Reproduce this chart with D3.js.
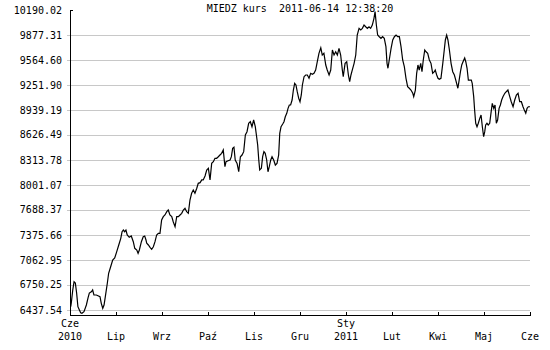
<!DOCTYPE html>
<html>
<head>
<meta charset="utf-8">
<script src="https://cdn.jsdelivr.net/npm/d3@7/dist/d3.min.js"></script>
<style>
  html, body { margin: 0; padding: 0; background: #fff; }
  svg text { font-family: "DejaVu Sans Mono", monospace; font-size: 10px; fill: #000; }
</style>
</head>
<body>
<svg id="chart" width="550" height="350"></svg>
<script>
const title = "MIEDZ kurs\u00a0\u00a02011-06-14 12:38:20";

// session position (trading days from 2010-06-14) and closing value
const sessions = [0.4,0.7,1.5,2.2,2.9,3.6,4.3,5.1,5.8,6.5,7.6,8.9,9.8,10.5,11.6,12.3,13.0,14.3,15.2,16.3,17.0,17.8,18.5,19.2,20.3,21.0,22.1,23.2,24.3,25.4,26.5,27.6,28.3,29.0,29.7,30.4,31.1,32.2,33.3,34.4,35.2,36.3,37.0,37.7,38.8,39.8,40.6,41.3,41.7,42.6,43.5,44.4,45.3,46.2,47.1,48.0,48.9,49.8,50.7,51.6,52.6,53.4,54.3,55.3,56.1,57.1,58.0,58.9,59.8,60.7,61.6,62.5,63.4,64.3,65.2,66.1,67.0,67.9,68.9,69.7,70.7,71.6,72.4,73.4,74.3,75.2,76.1,77.0,77.9,78.8,79.7,80.6,81.5,82.4,83.3,84.2,84.8,85.9,87.0,87.7,88.4,89.1,89.8,90.8,91.7,92.6,93.5,94.4,95.3,96.2,97.1,98.0,98.9,99.8,100.7,101.3,102.0,102.6,103.1,104.0,104.7,105.4,106.1,106.9,107.6,108.3,109.1,109.8,110.7,111.6,112.5,113.4,114.0,114.7,115.6,116.3,117.0,117.8,118.5,119.2,119.9,120.7,121.4,122.1,122.8,123.5,124.3,125.0,125.7,126.3,127.2,128.1,129.0,129.9,130.8,131.7,132.6,133.5,134.4,135.3,136.3,137.1,138.0,139.0,139.8,140.8,141.7,142.6,143.5,144.4,145.3,146.2,147.1,148.0,148.5,149.5,150.4,151.3,152.0,152.7,153.4,154.4,155.3,156.1,157.1,158.0,158.9,159.8,160.7,161.6,162.5,163.4,164.3,165.2,165.8,166.5,167.2,168.1,169.0,169.9,170.8,171.7,172.3,172.8,173.5,174.5,175.4,176.3,177.2,178.1,179.0,179.9,180.8,181.7,182.6,183.5,184.4,185.3,186.3,186.8,187.7,188.4,189.1,189.8,190.6,191.3,192.0,192.8,193.5,194.4,195.3,196.2,197.1,198.0,198.5,199.3,200.0,200.7,201.6,202.6,203.4,204.0,204.7,205.4,206.2,207.1,208.0,208.9,209.8,210.8,211.5,212.2,212.9,213.6,214.5,215.1,215.8,216.5,217.2,218.1,218.6,219.4,219.9,220.5,221.2,221.9,222.7,223.4,224.1,224.8,225.4,225.9,226.6,227.3,228.1,228.9,229.5,230.3,231.0,231.7,232.4,233.2,233.9,234.6,235.3,236.3,237.1,238.0,239.0,239.8,240.8,241.7,242.6,243.5,244.4,245.3,246.2,246.9,247.7,248.4,249.1,250.0];
const prices = [6479,6525,6688,6791,6775,6650,6479,6438,6404,6396,6416,6500,6588,6650,6666,6688,6625,6625,6616,6604,6521,6459,6500,6604,6775,6897,6979,7063,7088,7167,7251,7334,7417,7438,7417,7438,7376,7347,7363,7292,7209,7188,7147,7188,7292,7354,7363,7313,7272,7251,7222,7197,7229,7292,7376,7397,7397,7563,7605,7626,7667,7688,7626,7605,7542,7479,7605,7605,7626,7647,7688,7710,7667,7647,7813,7897,7938,7897,7960,8022,8030,8064,8064,8114,8189,8210,8064,8272,8292,8335,8335,8355,8376,8397,8439,8230,8292,8305,8314,8355,8460,8473,8314,8272,8167,8355,8376,8418,8626,8668,8773,8793,8730,8814,8730,8626,8501,8314,8189,8210,8355,8418,8397,8314,8167,8230,8314,8355,8314,8251,8272,8376,8648,8730,8764,8793,8855,8898,8960,9002,9002,9064,9189,9273,9252,9168,9085,9043,9127,9252,9356,9377,9377,9336,9398,9386,9398,9439,9543,9648,9718,9627,9648,9502,9439,9377,9439,9690,9627,9668,9627,9711,9627,9439,9356,9523,9543,9377,9293,9377,9439,9523,9627,9877,9961,9940,9961,10002,9981,9961,9981,9961,10002,10086,10169,10002,9877,9856,9836,9856,9836,9731,9523,9461,9565,9711,9815,9856,9877,9856,9856,9731,9565,9481,9336,9231,9211,9189,9148,9106,9189,9398,9502,9439,9523,9418,9565,9690,9668,9648,9565,9523,9398,9418,9439,9377,9336,9323,9336,9523,9690,9815,9877,9815,9690,9523,9418,9377,9300,9211,9314,9418,9502,9543,9590,9543,9461,9314,9314,9314,9273,9106,8939,8773,8730,8773,8835,8877,8730,8605,8668,8752,8773,8752,8773,8918,9023,8960,9002,8773,8814,8960,9002,9064,9106,9148,9168,9189,9106,9043,8980,9064,9127,9148,9043,9043,8980,8939,8898,8960,8980,8980];

const yTickLabels = ["6437.54","6750.25","7062.95","7375.66","7688.37","8001.07","8313.78","8626.49","8939.19","9251.90","9564.60","9877.31","10190.02"];
const yMin = 6375.0;

const xTickSessions = [0,25,50,75,100,125,150,175,200,225,250];
const xTickMonths = ["Cze","Lip","Wrz","Paź","Lis","Gru","Sty","Lut","Kwi","Maj","Cze"];
const xTickYears  = ["2010","","","","","","2011","","","",""];

const svg = d3.select("#chart");
const L = 70, R = 530, T = 10, B = 315;

const x = d3.scaleLinear().domain([0, 250]).range([L, R]);
const y = d3.scaleLinear().domain([yMin, +yTickLabels[yTickLabels.length - 1]]).range([B, T]);

// title
svg.append("text").attr("x", (L + R) / 2).attr("y", 12).attr("text-anchor", "middle").text(title);

// horizontal grid lines (except the top one)
svg.append("g").selectAll("line").data(yTickLabels.slice(0, -1)).join("line")
  .attr("x1", L - 3).attr("x2", R)
  .attr("y1", d => Math.round(y(+d)) + 0.5).attr("y2", d => Math.round(y(+d)) + 0.5)
  .attr("stroke", "#c8c8c8").attr("stroke-width", 1).attr("shape-rendering", "crispEdges");

// y labels
svg.append("g").selectAll("text").data(yTickLabels).join("text")
  .attr("x", 62).attr("y", d => y(+d)).attr("dy", "0.35em")
  .attr("text-anchor", "end").text(d => d);

// price line
const line = d3.line().x((d, i) => x(sessions[i])).y(d => y(d));
svg.append("path").datum(prices).attr("d", line)
  .attr("fill", "none").attr("stroke", "#000").attr("stroke-width", 1.2)
  .attr("stroke-linejoin", "miter");

// axes
const ax = svg.append("g").attr("shape-rendering", "crispEdges").attr("stroke", "#000");
ax.append("line").attr("x1", L + 0.5).attr("x2", L + 0.5).attr("y1", T).attr("y2", B + 1);
ax.append("line").attr("x1", L + 0.5).attr("x2", L + 3).attr("y1", T + 0.5).attr("y2", T + 0.5);
ax.append("line").attr("x1", L).attr("x2", R + 1).attr("y1", B + 0.5).attr("y2", B + 0.5);
ax.selectAll("line.xt").data(xTickSessions).join("line").attr("class", "xt")
  .attr("x1", d => Math.round(x(d)) + 0.5).attr("x2", d => Math.round(x(d)) + 0.5)
  .attr("y1", B - 3).attr("y2", B);

// x labels
const xl = svg.append("g");
xl.selectAll("text.m").data(xTickSessions).join("text").attr("class", "m")
  .attr("x", d => x(d)).attr("y", (d, i) => xTickYears[i] ? 327 : 340)
  .attr("text-anchor", "middle").text((d, i) => xTickMonths[i]);
xl.selectAll("text.yr").data(xTickSessions.filter((d, i) => xTickYears[i])).join("text").attr("class", "yr")
  .attr("x", d => x(d)).attr("y", 340)
  .attr("text-anchor", "middle").text(d => xTickYears[xTickSessions.indexOf(d)]);
</script>
</body>
</html>
